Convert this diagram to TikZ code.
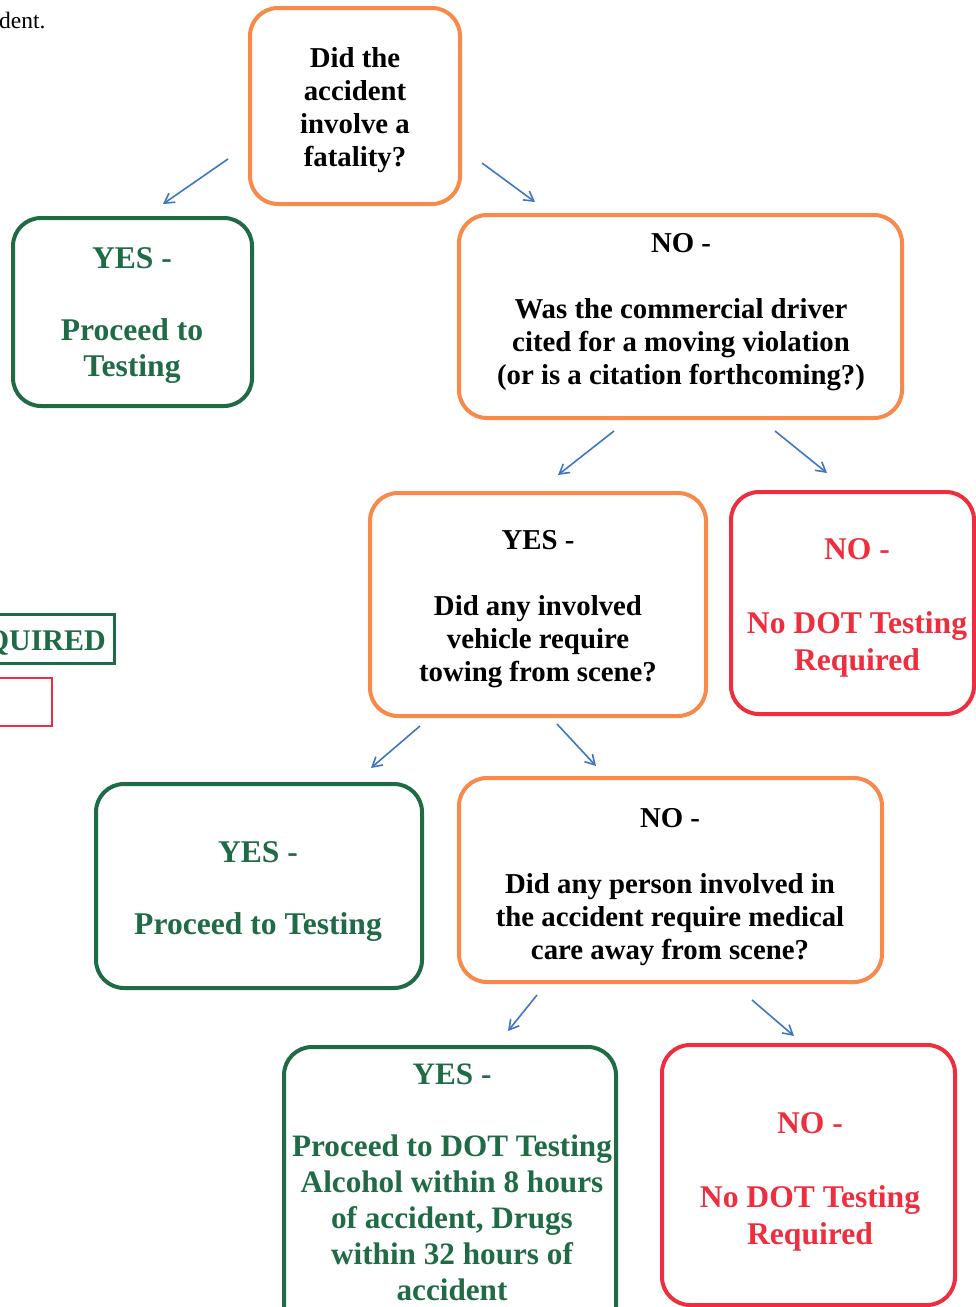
\documentclass[tikz,border=0pt]{standalone}
\usepackage{fontspec}
\setmainfont{Liberation Serif}
\usetikzlibrary{arrows.meta}
\definecolor{borange}{HTML}{F7894A}
\definecolor{bgreen}{HTML}{1F6B45}
\definecolor{bred}{HTML}{EE2E3E}
\definecolor{ablue}{HTML}{3F75C4}
\tikzset{
  box/.style={draw, line width=4pt, rounded corners=28pt, inner sep=0pt},
  obox/.style={box, draw=borange},
  gbox/.style={box, draw=bgreen},
  rbox/.style={box, draw=bred},
  qtxt/.style={align=center, inner sep=0pt, font=\fontsize{28.8}{33}\selectfont\bfseries, text=black},
  gtxt/.style={align=center, inner sep=0pt, font=\fontsize{31.6}{36}\selectfont\bfseries, text=bgreen},
  g3txt/.style={align=center, inner sep=0pt, font=\fontsize{31.2}{36}\selectfont\bfseries, text=bgreen},
  rtxt/.style={align=center, inner sep=0pt, font=\fontsize{31.6}{37}\selectfont\bfseries, text=bred},
  flow/.style={draw=ablue, line width=1.6pt, -{Straight Barb[angle=60:11pt]}},
}
\begin{document}
\begin{tikzpicture}[x=1pt,y=-1pt]
\useasboundingbox (0,0) rectangle (976,1307);
\clip (0,0) rectangle (976,1307);

% partial page elements
\node[anchor=base west, inner sep=0pt, font=\fontsize{23.5}{26}\selectfont] (frag) at (-1,28) {dent.};
\node[draw=bgreen, line width=3pt, minimum width=134pt, minimum height=49pt, inner sep=0pt] (reqbox) at (47,638.5) {};
\node[anchor=east, inner sep=0pt, text=bgreen, font=\fontsize{30}{34}\selectfont\bfseries] (reqtxt) at (106,643) {QUIRED};
\node[draw=bred, line width=2pt, minimum width=80pt, minimum height=48pt, inner sep=0pt] (redfrag) at (12,702) {};

% boxes
\node[obox, minimum width=210pt, minimum height=196pt] (q1) at (355,106) {};
\node[qtxt] (q1t) at (355,110.5) {Did the\\accident\\involve a\\fatality?};

\node[gbox, minimum width=239pt, minimum height=188pt] (y1) at (132.5,312) {};
\node[gtxt] (y1t) at (132,316) {YES -\\[36pt]Proceed to\\Testing};

\node[obox, minimum width=443pt, minimum height=203pt] (q2) at (680.5,316.5) {};
\node[qtxt] (q2t) at (681,312.5) {NO -\\[33pt]Was the commercial driver\\cited for a moving violation\\(or is a citation forthcoming?)};

\node[obox, minimum width=336pt, minimum height=223pt] (q3) at (538,604.5) {};
\node[qtxt] (q3t) at (538,609.5) {YES -\\[33pt]Did any involved\\vehicle require\\towing from scene?};

\node[rbox, minimum width=243pt, minimum height=222pt] (n1) at (852.5,603) {};
\node[rtxt] (n1t) at (857,608) {NO -\\[37pt]No DOT Testing\\Required};

\node[gbox, minimum width=326pt, minimum height=204pt] (y2) at (259,886) {};
\node[gtxt] (y2t) at (258,891.5) {YES -\\[36pt]Proceed to Testing};

\node[obox, minimum width=423pt, minimum height=204pt] (q4) at (670.5,880) {};
\node[qtxt] (q4t) at (670,887) {NO -\\[33pt]Did any person involved in\\the accident require medical\\care away from scene?};

\node[gbox, minimum width=332pt, minimum height=290pt] (y3) at (450,1192) {};
\node[g3txt] (y3t) at (452,1182) {YES -\\[36pt]Proceed to DOT Testing\\Alcohol within 8 hours\\of accident, Drugs\\within 32 hours of\\accident};

\node[rbox, minimum width=293pt, minimum height=260pt] (n2) at (808.5,1175) {};
\node[rtxt] (n2t) at (810,1181.5) {NO -\\[37pt]No DOT Testing\\Required};

% arrow end points
\coordinate (a1s) at (228,159); \coordinate (a1e) at (163,204);
\coordinate (a2s) at (482,163); \coordinate (a2e) at (535,202);
\coordinate (a3s) at (614,431); \coordinate (a3e) at (558,475);
\coordinate (a4s) at (775,431); \coordinate (a4e) at (827,473);
\coordinate (a5s) at (420,726); \coordinate (a5e) at (371,768);
\coordinate (a6s) at (557,724); \coordinate (a6e) at (596,766);
\coordinate (a7s) at (537,995); \coordinate (a7e) at (508,1031);
\coordinate (a8s) at (752,1000); \coordinate (a8e) at (794,1036);

\draw[flow] (a1s) -- (a1e);
\draw[flow] (a2s) -- (a2e);
\draw[flow] (a3s) -- (a3e);
\draw[flow] (a4s) -- (a4e);
\draw[flow] (a5s) -- (a5e);
\draw[flow] (a6s) -- (a6e);
\draw[flow] (a7s) -- (a7e);
\draw[flow] (a8s) -- (a8e);
\end{tikzpicture}
\end{document}
